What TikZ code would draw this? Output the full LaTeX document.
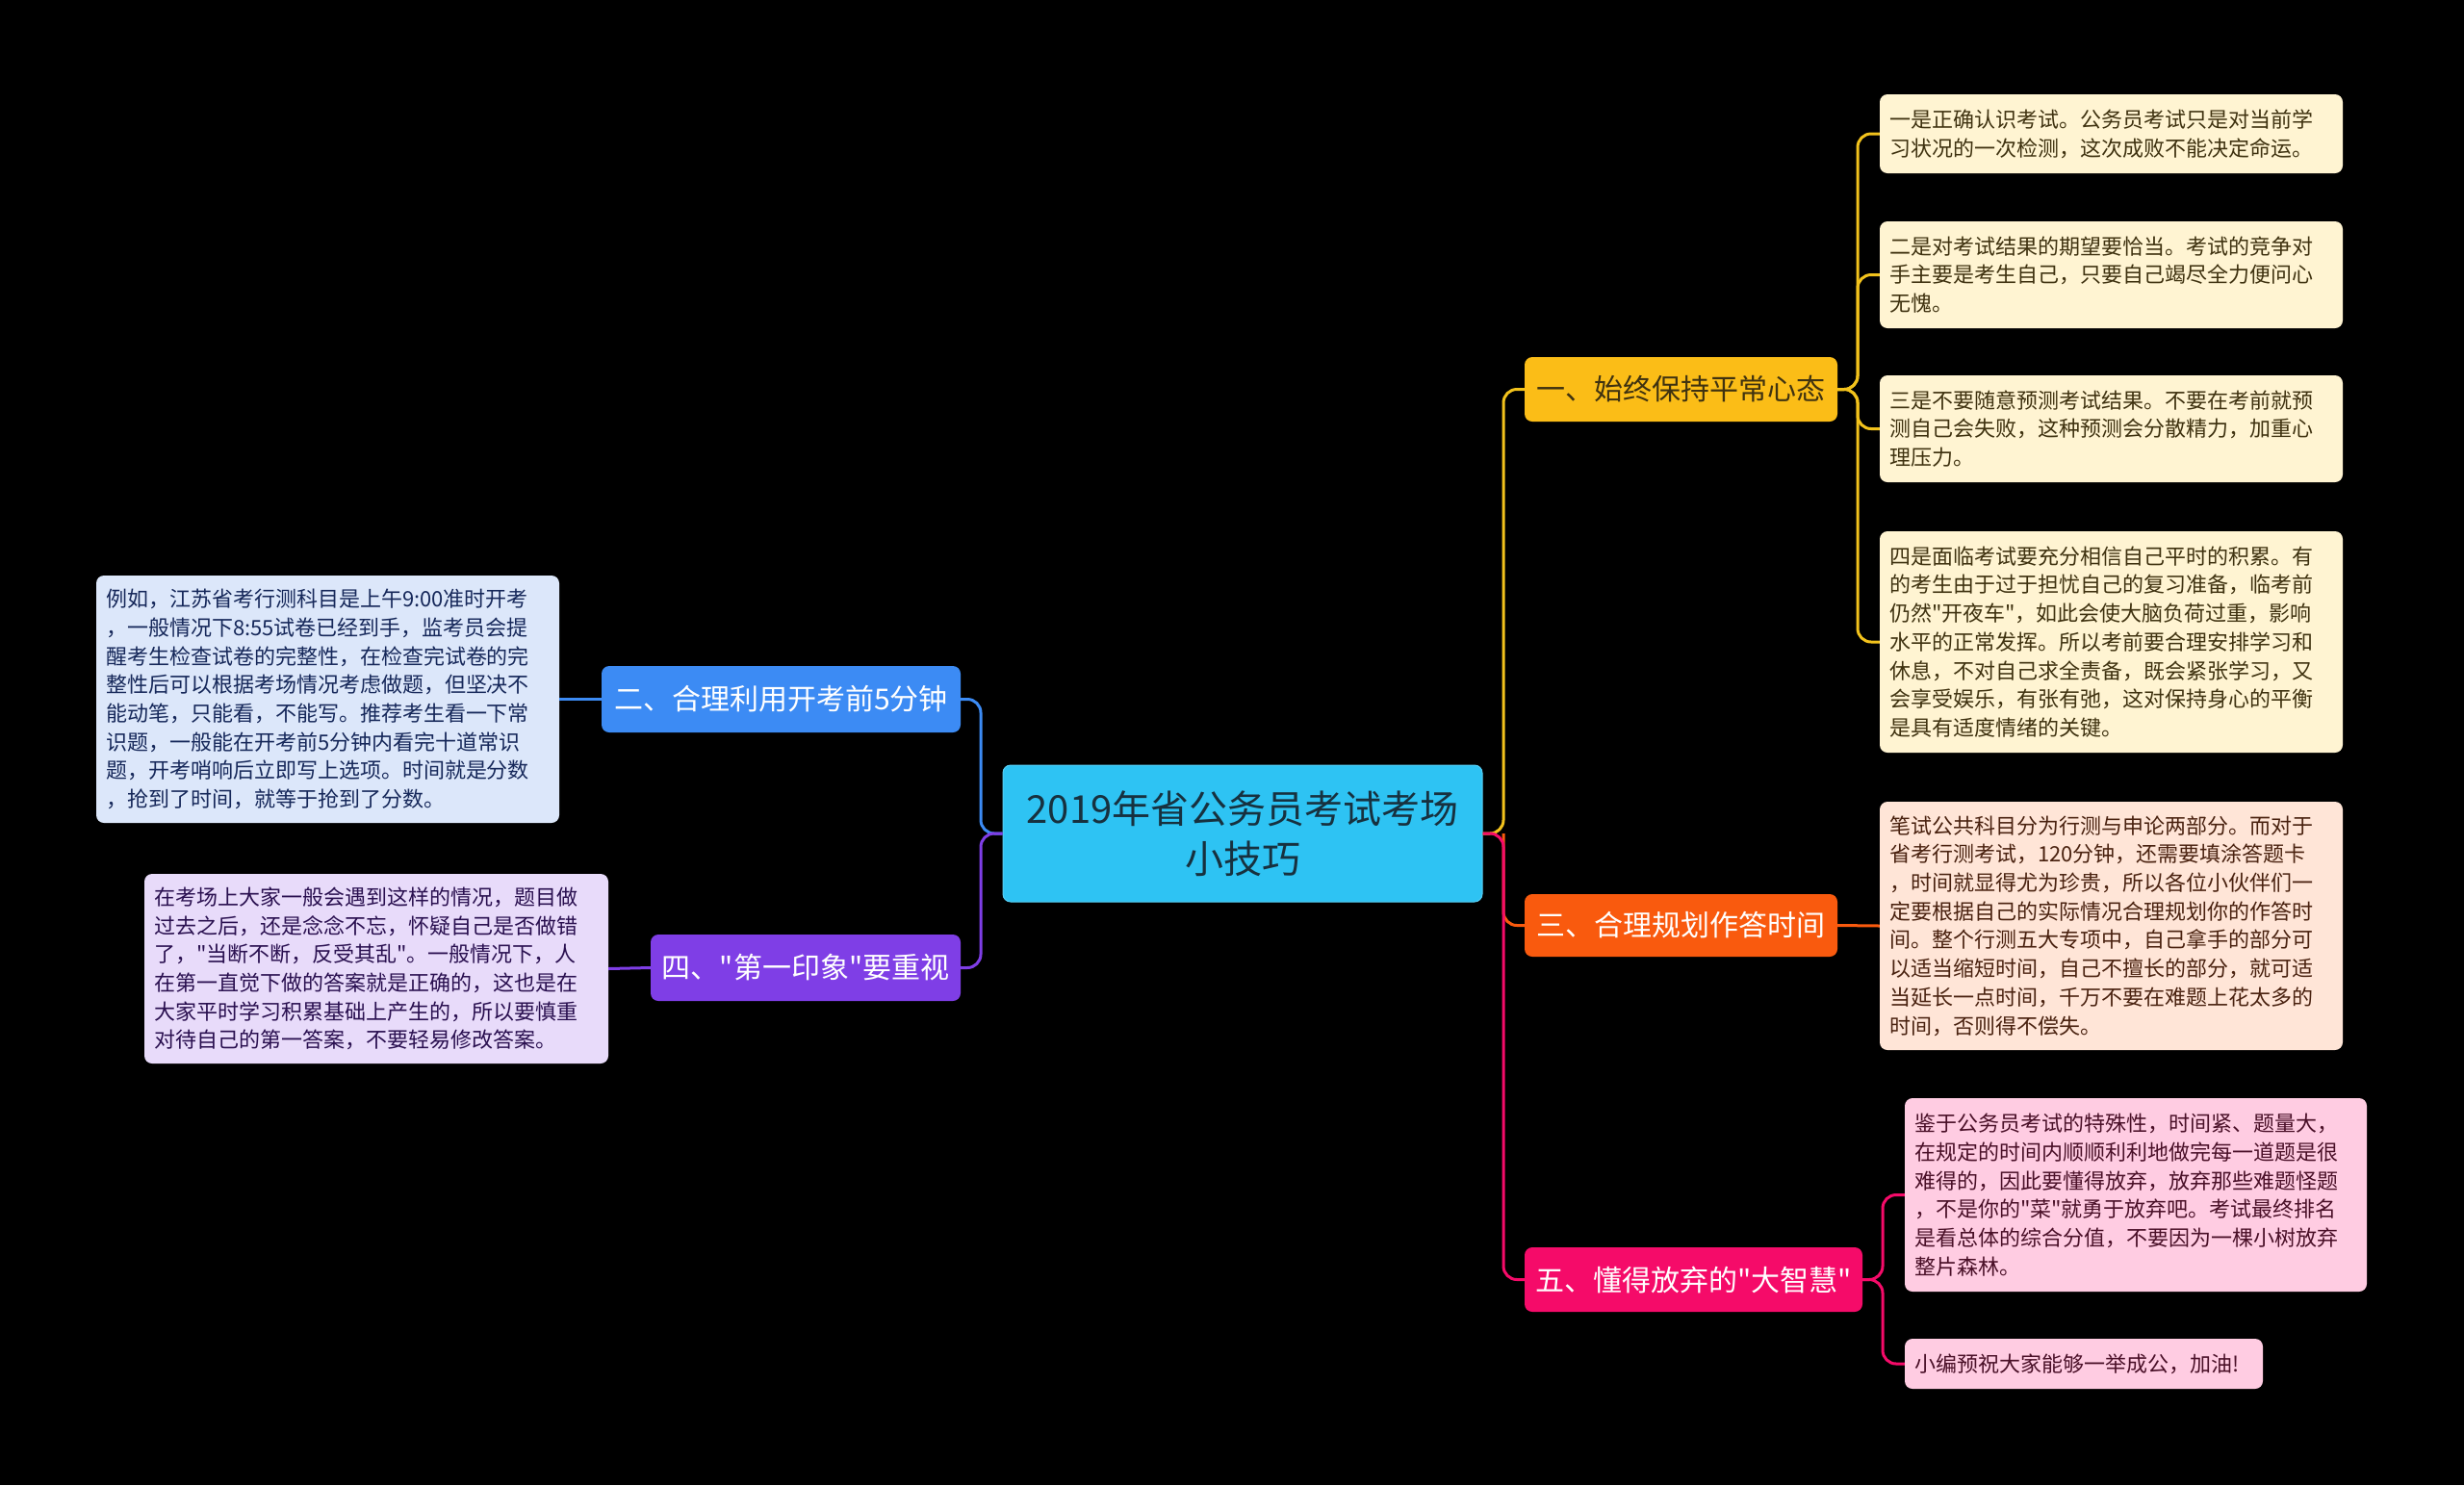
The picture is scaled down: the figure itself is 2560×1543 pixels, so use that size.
\documentclass[tikz,border=0pt]{standalone}
\usepackage{fontspec}
\setmainfont{Noto Sans CJK SC}[Ligatures=TeXOff]
\definecolor{bg}{HTML}{000000}
\definecolor{cfill}{HTML}{2EC3F3}
\definecolor{ctext}{HTML}{17313F}
\definecolor{ylw}{HTML}{FBBD17}
\definecolor{ylwline}{HTML}{F2C21C}
\definecolor{org}{HTML}{F95A0E}
\definecolor{pnk}{HTML}{F50B69}
\definecolor{blu}{HTML}{3C8BF4}
\definecolor{pur}{HTML}{7F3EE6}
\definecolor{lylw}{HTML}{FFF4D2}
\definecolor{tylw}{HTML}{3F3210}
\definecolor{lorg}{HTML}{FFE5D7}
\definecolor{torg}{HTML}{4A2210}
\definecolor{lpnk}{HTML}{FFCCE2}
\definecolor{tpnk}{HTML}{4A1028}
\definecolor{lblu}{HTML}{DCE7FA}
\definecolor{tblu}{HTML}{16285A}
\definecolor{lpur}{HTML}{E8DBFA}
\definecolor{tpur}{HTML}{2A1050}
\tikzset{
  branch/.style={rounded corners=8pt, inner sep=0pt, align=center, font=\fontsize{30}{36}\selectfont},
  leaf/.style={rounded corners=8pt, inner xsep=10pt, inner ysep=0pt, align=left, font=\fontsize{22}{29.7}\selectfont},
  conn/.style={line width=3pt, rounded corners=14pt},
}
\begin{document}
\begin{tikzpicture}[x=1pt,y=-1pt]
\fill[bg] (0,0) rectangle (2560,1543);
\useasboundingbox (0,0) rectangle (2560,1543);

% central
\node[rounded corners=8pt, fill=cfill, draw=cfill!80!white, line width=1pt, text=ctext, align=center,
      minimum width=498pt, minimum height=142pt, inner sep=0pt,
      font=\fontsize{40}{52}\selectfont] (c) at (1291,866) {2019年省公务员考试考场\\小技巧};

% branches
\node[branch, fill=ylw, text=tylw, minimum width=325pt, minimum height=67pt] (b1) at (1746.5,404.5) {一、始终保持平常心态};
\node[branch, fill=org, text=white, minimum width=325pt, minimum height=65pt] (b3) at (1746.5,961.5) {三、合理规划作答时间};
\node[branch, fill=pnk, text=white, minimum width=351pt, minimum height=67pt] (b5) at (1759.5,1329.5) {五、懂得放弃的"大智慧"};
\node[branch, fill=blu, text=white, minimum width=373pt, minimum height=69pt] (b2) at (811.5,726.5) {二、合理利用开考前5分钟};
\node[branch, fill=pur, text=white, minimum width=322pt, minimum height=69pt] (b4) at (837,1005.5) {四、"第一印象"要重视};

% leaves right
\node[leaf, fill=lylw, text=tylw, text width=461pt, minimum height=82pt] (l1) at (2193.5,139)
 {一是正确认识考试。公务员考试只是对当前学\\习状况的一次检测，这次成败不能决定命运。};
\node[leaf, fill=lylw, text=tylw, text width=461pt, minimum height=111pt] (l2) at (2193.5,285.5)
 {二是对考试结果的期望要恰当。考试的竞争对\\手主要是考生自己，只要自己竭尽全力便问心\\无愧。};
\node[leaf, fill=lylw, text=tylw, text width=461pt, minimum height=111pt] (l3) at (2193.5,445.5)
 {三是不要随意预测考试结果。不要在考前就预\\测自己会失败，这种预测会分散精力，加重心\\理压力。};
\node[leaf, fill=lylw, text=tylw, text width=461pt, minimum height=230pt] (l4) at (2193.5,667)
 {四是面临考试要充分相信自己平时的积累。有\\的考生由于过于担忧自己的复习准备，临考前\\仍然"开夜车"，如此会使大脑负荷过重，影响\\水平的正常发挥。所以考前要合理安排学习和\\休息，不对自己求全责备，既会紧张学习，又\\会享受娱乐，有张有弛，这对保持身心的平衡\\是具有适度情绪的关键。};
\node[leaf, fill=lorg, text=torg, text width=461pt, minimum height=258pt] (l5) at (2193.5,962)
 {笔试公共科目分为行测与申论两部分。而对于\\省考行测考试，120分钟，还需要填涂答题卡\\，时间就显得尤为珍贵，所以各位小伙伴们一\\定要根据自己的实际情况合理规划你的作答时\\间。整个行测五大专项中，自己拿手的部分可\\以适当缩短时间，自己不擅长的部分，就可适\\当延长一点时间，千万不要在难题上花太多的\\时间，否则得不偿失。};
\node[leaf, fill=lpnk, text=tpnk, text width=460pt, minimum height=201pt] (l6) at (2219,1241.5)
 {鉴于公务员考试的特殊性，时间紧、题量大，\\在规定的时间内顺顺利利地做完每一道题是很\\难得的，因此要懂得放弃，放弃那些难题怪题\\，不是你的"菜"就勇于放弃吧。考试最终排名\\是看总体的综合分值，不要因为一棵小树放弃\\整片森林。};
\node[leaf, fill=lpnk, text=tpnk, text width=352pt, minimum height=52pt] (l7) at (2165,1417)
 {小编预祝大家能够一举成公，加油!};

% leaves left
\node[leaf, fill=lblu, text=tblu, text width=461pt, minimum height=257pt] (lb2) at (340.5,726.5)
 {例如，江苏省考行测科目是上午9:00准时开考\\，一般情况下8:55试卷已经到手，监考员会提\\醒考生检查试卷的完整性，在检查完试卷的完\\整性后可以根据考场情况考虑做题，但坚决不\\能动笔，只能看，不能写。推荐考生看一下常\\识题，一般能在开考前5分钟内看完十道常识\\题，开考哨响后立即写上选项。时间就是分数\\，抢到了时间，就等于抢到了分数。};
\node[leaf, fill=lpur, text=tpur, text width=462pt, minimum height=197pt] (lb4) at (391,1006.5)
 {在考场上大家一般会遇到这样的情况，题目做\\过去之后，还是念念不忘，怀疑自己是否做错\\了，"当断不断，反受其乱"。一般情况下，人\\在第一直觉下做的答案就是正确的，这也是在\\大家平时学习积累基础上产生的，所以要慎重\\对待自己的第一答案，不要轻易修改答案。};

% junction coordinates
\coordinate (rj) at (1562,866);
\coordinate (lj) at (1019,866);
\coordinate (j1) at (1930,404.5);
\coordinate (j5) at (1956,1329.5);

% connectors: central to branches
\draw[conn, draw=org] (rj) |- (b3.west);
\draw[conn, draw=ylwline] (c.east) -- (rj) |- (b1.west);
\draw[conn, draw=pnk] (c.east) -- (rj) |- (b5.west);
\draw[conn, draw=blu] (c.west) -- (lj) |- (b2.east);
\draw[conn, draw=pur] (c.west) -- (lj) |- (b4.east);

% branch to leaves
\draw[conn, draw=ylwline] (b1.east) -- (j1) |- (l1.west);
\draw[conn, draw=ylwline] (b1.east) -- (j1) |- (l2.west);
\draw[conn, draw=ylwline] (b1.east) -- (j1) |- (l3.west);
\draw[conn, draw=ylwline] (b1.east) -- (j1) |- (l4.west);
\draw[conn, draw=org] (b3.east) -- (l5.west);
\draw[conn, draw=pnk] (b5.east) -- (j5) |- (l6.west);
\draw[conn, draw=pnk] (b5.east) -- (j5) |- (l7.west);
\draw[conn, draw=blu] (b2.west) -- (lb2.east);
\draw[conn, draw=pur] (b4.west) -- (lb4.east);
\end{tikzpicture}
\end{document}
